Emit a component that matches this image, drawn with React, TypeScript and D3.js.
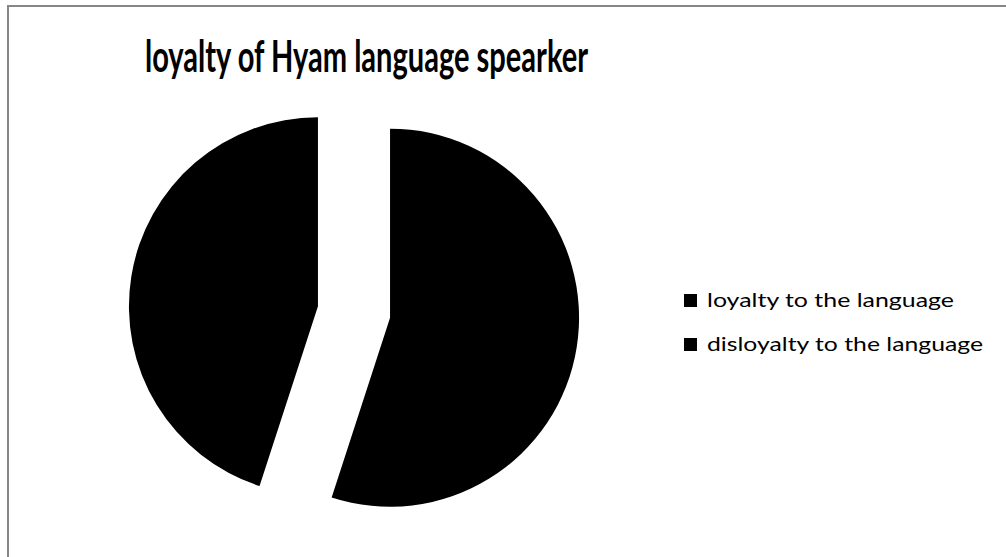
import React from "react";
import * as d3 from "d3";

const categories = ["loyalty to the language", "disloyalty to the language"];
const values = [55, 45];
const colors = ["#000000", "#000000"];
const title = "loyalty of Hyam language spearker";

const W = 1006;
const H = 557;

export default function App() {
  const cx = 354;
  const cy = 312;
  const r = 189;
  const explode = 36.5;

  const pie = d3
    .pie<number>()
    .sort(null)
    .startAngle(0)
    .endAngle(2 * Math.PI)
    .value((d) => d);
  const arcs = pie(values);
  const arc = d3.arc<d3.PieArcDatum<number>>().innerRadius(0).outerRadius(r);

  const legendX = 684;
  const legendY0 = 294;
  const legendStep = 44;
  const legendWidths = [247, 276];

  return (
    <div style={{ position: "absolute", left: 0, top: 0 }}>
      <svg width={W} height={H} style={{ display: "block" }}>
        <rect x={0} y={0} width={W} height={H} fill="#ffffff" />
        <rect x={8} y={6} width={W + 10} height={H + 10} fill="#ffffff" stroke="#878787" strokeWidth={2} />
        <text
          x={145}
          y={72}
          fontFamily="Lato, 'Open Sans', sans-serif"
          fontWeight={700}
          fontSize={44}
          fill="#000"
          textLength={443}
          lengthAdjust="spacingAndGlyphs"
        >
          {title}
        </text>
        <g transform={`translate(${cx},${cy})`}>
          {arcs.map((a, i) => {
            const mid = (a.startAngle + a.endAngle) / 2;
            const dx = explode * Math.sin(mid);
            const dy = -explode * Math.cos(mid);
            return (
              <path
                key={i}
                d={arc(a) || ""}
                transform={`translate(${dx},${dy})`}
                fill={colors[i]}
              />
            );
          })}
        </g>
        {categories.map((c, i) => (
          <g key={c}>
            <rect
              x={legendX}
              y={legendY0 + i * legendStep}
              width={13}
              height={13}
              fill={colors[i]}
            />
            <text
              x={707}
              y={legendY0 + 13 + i * legendStep}
              fontFamily="Lato, 'Open Sans', sans-serif"
              fontSize={20}
              fill="#000"
              textLength={legendWidths[i]}
              lengthAdjust="spacingAndGlyphs"
            >
              {c}
            </text>
          </g>
        ))}
      </svg>
    </div>
  );
}
